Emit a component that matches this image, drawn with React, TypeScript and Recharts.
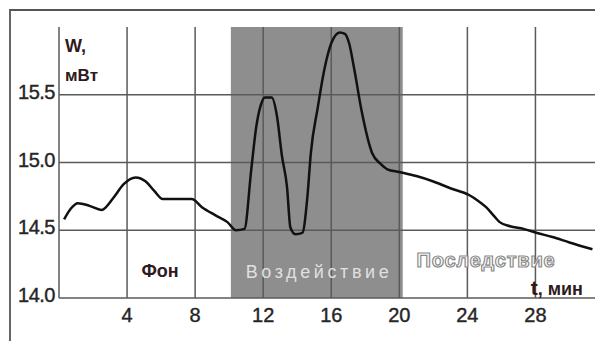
import React from 'react';
import { ComposedChart, Line, XAxis, YAxis, ReferenceArea, ReferenceLine } from 'recharts';

// time in minutes
const times = [0.3, 0.7, 1.1, 1.8, 2.5, 3.2, 3.8, 4.5, 5.1, 5.6, 6.1, 7.0, 7.8, 8.4, 9.2, 9.9, 10.4, 10.9, 11.3, 11.6, 11.85, 12.1, 12.5, 12.8, 13.1, 13.4, 13.6, 13.9, 14.3, 14.6, 14.8, 15.2, 15.6, 16.0, 16.5, 16.8, 17.05, 17.35, 17.8, 18.4, 18.9, 19.3, 20.0, 21.0, 22.0, 23.0, 24.1, 24.6, 25.1, 25.6, 25.9, 26.5, 27.3, 28.1, 29.0, 30.0, 31.35];
// power W, mW
const power = [14.58, 14.66, 14.70, 14.68, 14.65, 14.74, 14.84, 14.89, 14.86, 14.79, 14.73, 14.73, 14.73, 14.67, 14.61, 14.56, 14.50, 14.51, 14.95, 15.27, 15.42, 15.48, 15.48, 15.35, 15.05, 14.82, 14.52, 14.47, 14.48, 14.75, 15.07, 15.40, 15.69, 15.88, 15.96, 15.95, 15.88, 15.69, 15.37, 15.07, 14.99, 14.95, 14.93, 14.90, 14.86, 14.81, 14.76, 14.72, 14.67, 14.60, 14.56, 14.53, 14.51, 14.48, 14.45, 14.41, 14.36];

const xTicks = [4, 8, 12, 16, 20, 24, 28];
const yTicks = [14, 14.5, 15, 15.5];
const exposure = [10.1, 20.2]; // shaded "Воздействие" interval

const data = times.map((t, i) => ({ t, w: power[i] }));

const gridColor = '#5a5a5a';
const font = '"Liberation Sans", Arial, sans-serif';

const YTick = (props: any) => {
    const { x, y, payload } = props;
    return (
        <text x={x} y={y - 3} dy="0.36em" textAnchor="end" fontSize={20} fontFamily={font} fill="#262626" stroke="#262626" strokeWidth={0.4} letterSpacing={-0.5}>
            {payload.value.toFixed(1)}
        </text>
    );
};

const XTick = (props: any) => {
    const { x, y, payload } = props;
    return (
        <text x={x} y={y} dy="0.71em" textAnchor="middle" fontSize={20} fontFamily={font} fill="#262626" stroke="#262626" strokeWidth={0.4}>
            {payload.value}
        </text>
    );
};

export default function App() {
    return (
        <div style={{ position: 'relative', width: 595, height: 341, background: '#fff', overflow: 'hidden' }}>
            <style>{'body{margin:0}'}</style>
            {/* outer frame */}
            <div style={{ position: 'absolute', left: 9, top: 9, width: 600, height: 340, borderTop: '2px solid #555', borderLeft: '2px solid #666' }} />
            <ComposedChart width={595} height={341} data={data} margin={{ top: 27, right: 0, bottom: 0, left: 0 }}>
                <XAxis
                    dataKey="t"
                    type="number"
                    domain={[0, 31.5]}
                    ticks={xTicks}
                    tick={<XTick />}
                    tickLine={false}
                    tickSize={0}
                    tickMargin={10}
                    height={43}
                    axisLine={{ stroke: gridColor, strokeWidth: 1.5 }}
                    allowDataOverflow
                />
                <YAxis
                    type="number"
                    domain={[14, 16]}
                    ticks={yTicks}
                    tick={<YTick />}
                    tickLine={false}
                    tickSize={0}
                    tickMargin={4}
                    width={59}
                    axisLine={{ stroke: gridColor, strokeWidth: 1.5 }}
                />
                <ReferenceArea x1={exposure[0]} x2={exposure[1]} y1={14} y2={16} fill="#8e8e8e" fillOpacity={1} stroke="none" />
                {xTicks.map(v => (
                    <ReferenceLine key={'x' + v} x={v} stroke={gridColor} strokeWidth={1.5} />
                ))}
                {yTicks.slice(1).map(v => (
                    <ReferenceLine key={'y' + v} y={v} stroke={gridColor} strokeWidth={1.5} />
                ))}
                <Line dataKey="w" type="monotone" stroke="#111" strokeWidth={2.5} dot={false} isAnimationActive={false} />
            </ComposedChart>
            <svg width={595} height={341} style={{ position: 'absolute', left: 0, top: 0, pointerEvents: 'none' }}>
                <text x={65} y={52} fontSize={18} fontWeight="bold" fontFamily={font} fill="#2e1a20">W,</text>
                <text x={65} y={81} fontSize={17} fontWeight="bold" fontFamily={font} fill="#2e1a20">мВт</text>
                <text x={160} y={277} textAnchor="middle" fontSize={18} fontWeight="bold" fontFamily={font} fill="#2e1a20">Фон</text>
                <text x={319} y={278} textAnchor="middle" fontSize={18} fontFamily={font} fill="#e0e0e0" letterSpacing={3.6}>Воздействие</text>
                <text x={486} y={267} textAnchor="middle" fontSize={20} fontWeight="bold" fontFamily={font} fill="#fff" stroke="#8a8a8a" strokeWidth={1.2} letterSpacing={0.8}>Последствие</text>
                <text x={583} y={295} textAnchor="end" fontSize={18} fontWeight="bold" fontFamily={font} fill="#2e1a20">
                    <tspan fontSize={21}>t</tspan>, мин
                </text>
            </svg>
        </div>
    );
}
